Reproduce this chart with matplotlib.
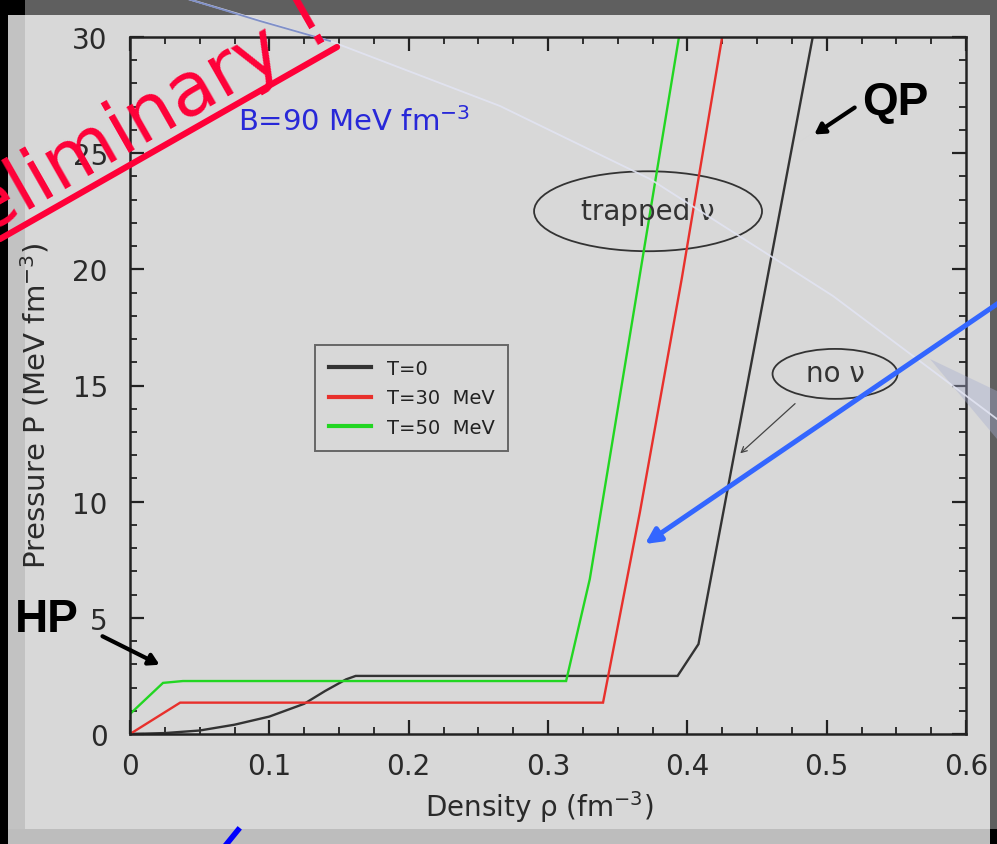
"""Pressure vs density for the hybrid EOS, redrawn from the slide."""
import matplotlib
matplotlib.use("Agg")
import matplotlib.pyplot as plt
from matplotlib.patches import Ellipse, Rectangle, Polygon
from matplotlib.ticker import MultipleLocator

W, H = 997, 845
PANEL = '#d8d8d8'

# ---- data ----
rho_t0 = [0.0, 0.025, 0.05, 0.075, 0.10, 0.125, 0.14, 0.155, 0.162, 0.393, 0.408, 0.490]
p_t0 = [0.0, 0.04, 0.15, 0.40, 0.75, 1.30, 1.85, 2.35, 2.50, 2.50, 3.87, 30.0]

rho_t30 = [0.0, 0.036, 0.3395, 0.366, 0.396, 0.425]
p_t30 = [0.0, 1.35, 1.35, 9.56, 19.6, 30.0]

rho_t50 = [0.0, 0.0237, 0.038, 0.313, 0.330, 0.394]
p_t50 = [0.86, 2.20, 2.28, 2.28, 6.67, 30.0]

labels = ['T=0', 'T=30  MeV', 'T=50  MeV']
colors = ['#333333', '#e8302c', '#22d622']

xticks = [0, 0.1, 0.2, 0.3, 0.4, 0.5, 0.6]
xtick_labels = ['0', '0.1', '0.2', '0.3', '0.4', '0.5', '0.6']
yticks = [0, 5, 10, 15, 20, 25, 30]
ytick_labels = ['0', '5', '10', '15', '20', '25', '30']

plt.rcParams['font.family'] = ['DejaVu Sans']
plt.rcParams['mathtext.fontset'] = 'dejavusans'

fig = plt.figure(figsize=(W / 100, H / 100), dpi=100, facecolor=PANEL)

# ---- slide background (pixel coords) ----
bg = fig.add_axes([0, 0, 1, 1], zorder=0)
bg.set_xlim(0, W)
bg.set_ylim(H, 0)
bg.axis('off')
for (x0, y0, x1, y1, c) in [(0, 0, W, 16, '#5f5f5f'), (0, 0, 8, H, '#000000'),
                            (0, 0, 25, 16, '#000000'), (8, 16, 25, 830, '#c2c2c2'),
                            (8, 830, 990, H, '#bdbdbd'), (990, 0, W, 830, '#5f5f5f'),
                            (990, 830, W, H, '#000000')]:
    bg.add_patch(Rectangle((x0, y0), x1 - x0, y1 - y0, color=c, lw=0))

# ---- main plot ----
ax = fig.add_axes([130 / W, 1 - 735 / H, 836 / W, 697 / H], zorder=1)
ax.set_facecolor(PANEL)
for rho, p, lab, c in zip([rho_t0, rho_t30, rho_t50], [p_t0, p_t30, p_t50], labels, colors):
    ax.plot(rho, p, color=c, lw=1.7, label=lab, solid_joinstyle='miter')

ax.set_xlim(0, 0.6)
ax.set_ylim(0, 30)
ax.set_xticks(xticks, labels=xtick_labels)
ax.set_yticks(yticks, labels=ytick_labels)
ax.xaxis.set_minor_locator(MultipleLocator(0.025))
ax.yaxis.set_minor_locator(MultipleLocator(1))
ax.tick_params(which='both', direction='in', top=True, right=True, colors='#222222',
               labelcolor='#2a2a2a', labelsize=20)
ax.tick_params(which='major', length=10, width=1.6)
ax.tick_params(which='minor', length=5, width=1.3)
ax.tick_params(axis='x', pad=13)
ax.tick_params(axis='y', pad=16)
for s in ax.spines.values():
    s.set_linewidth(1.8)
    s.set_color('#222222')

ax.set_xlabel('Density ρ (fm$^{-3}$)', fontsize=20, color='#2a2a2a')
ax.set_ylabel('Pressure P (MeV fm$^{-3}$)', fontsize=21, color='#2a2a2a')
ax.xaxis.set_label_coords(0.49, -0.078)
ax.yaxis.set_label_coords(-0.094, 0.473)

leg = ax.legend(loc='upper left', bbox_to_anchor=(315 / W, 1 - 346 / H),
                bbox_transform=fig.transFigure, fontsize=14, frameon=True,
                fancybox=False, edgecolor='#666666', facecolor=PANEL, framealpha=1,
                handlelength=2.2, labelspacing=0.55, borderpad=0.7, borderaxespad=0)
leg.get_frame().set_linewidth(1.4)
for line in leg.get_lines():
    line.set_linewidth(3)
for t in leg.get_texts():
    t.set_color('#222222')

ax.text(0.0775, 26.0, 'B=90 MeV fm$^{-3}$', color='#2828d8', fontsize=21)

ax.add_patch(Ellipse((0.3718, 22.5), 0.1636, 3.44, fill=False, ec='#333333', lw=1.3))
ax.text(0.3718, 22.5, 'trapped ν', ha='center', va='center', fontsize=20, color='#333333')
ax.add_patch(Ellipse((0.506, 15.5), 0.0897, 2.15, fill=False, ec='#333333', lw=1.3))
ax.text(0.506, 15.55, 'no ν', ha='center', va='center', fontsize=20, color='#333333')
ax.annotate('', xy=(0.4365, 12.0), xytext=(0.4788, 14.3),
            arrowprops=dict(arrowstyle='->', color='#444444', lw=0.9))

# ---- slide overlay (pixel coords) ----
ov = fig.add_axes([0, 0, 1, 1], zorder=5)
ov.set_xlim(0, W)
ov.set_ylim(H, 0)
ov.axis('off')
ov.patch.set_alpha(0)

# faint arc of the slide template
ov.plot([188, 330, 500, 650, 833, 997], [0, 42, 107, 180, 297, 420],
        color='#e2e4f2', lw=1.3, alpha=0.9)
ov.plot([188, 260, 330], [0, 22, 42], color='#8090c8', lw=1.3)
ov.add_patch(Polygon([[930, 360], [997, 392], [997, 440]], closed=True,
                     color='#a8aed0', alpha=0.4, lw=0))

ov.text(335, 36, 'Preliminary !', rotation=29.7, rotation_mode='anchor',
        ha='right', va='baseline', fontsize=54, color='#ff0038')
ov.plot([0, 337], [240, 48], color='#ff0038', lw=4.5, solid_capstyle='round')

ov.text(862, 115, 'QP', fontsize=33, fontweight='bold', family='Liberation Sans',
        color='black')
ov.text(15, 632, 'HP', fontsize=33, fontweight='bold', family='Liberation Sans',
        color='black')
ov.annotate('', xy=(812, 137), xytext=(857, 107),
            arrowprops=dict(arrowstyle='-|>,head_length=0.6,head_width=0.35',
                            color='black', lw=3))
ov.annotate('', xy=(162, 667), xytext=(100, 636),
            arrowprops=dict(arrowstyle='-|>,head_length=0.6,head_width=0.35',
                            color='black', lw=3))
ov.annotate('', xy=(645, 545), xytext=(1000, 303),
            arrowprops=dict(arrowstyle='-|>,head_length=0.9,head_width=0.45',
                            color='#3366ff', lw=3.6, shrinkA=0, shrinkB=0))
ov.plot([238, 225], [831, 847], color='#0000ff', lw=4)

fig.savefig('out.png', dpi=100, facecolor=PANEL)
